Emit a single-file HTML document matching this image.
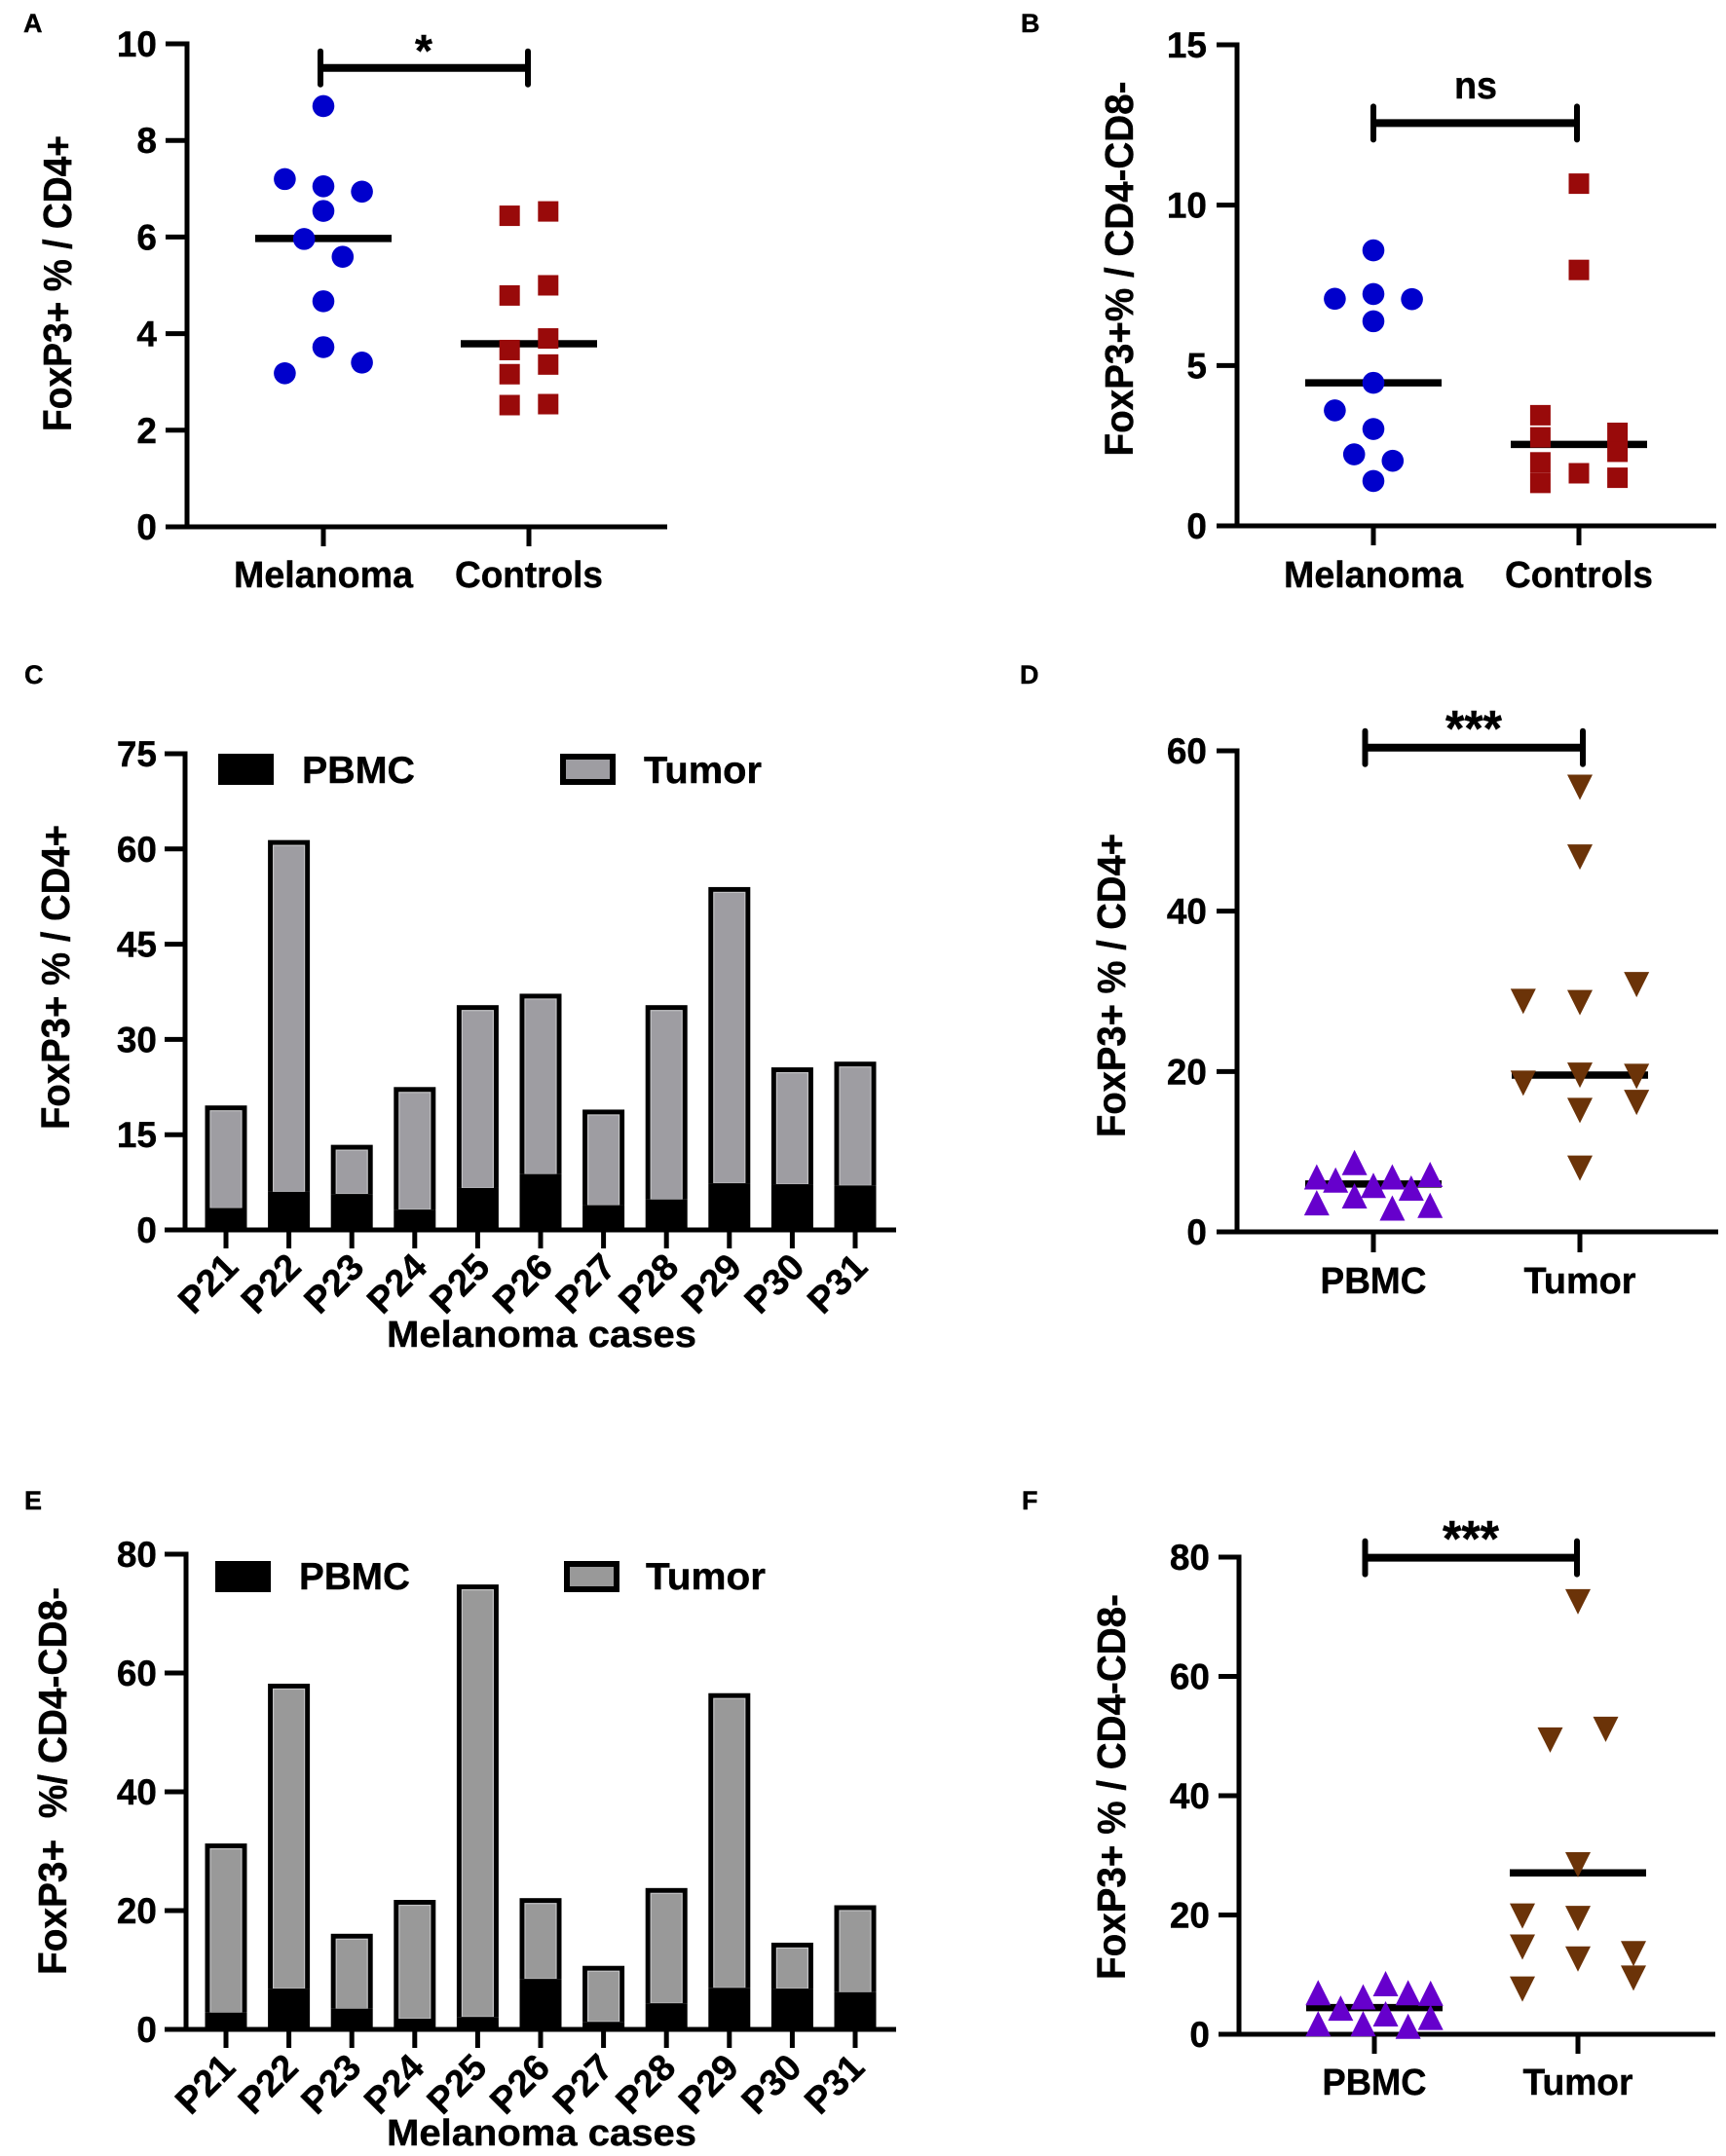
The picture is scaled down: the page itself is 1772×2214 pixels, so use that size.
<!DOCTYPE html>
<html lang="en">
<head>
<meta charset="utf-8">
<title>FoxP3+ frequencies in melanoma</title>
<style>
html,body{margin:0;padding:0;background:#fff;}
svg{display:block;}
text{font-family:"Liberation Sans",Arial,sans-serif;font-weight:bold;fill:#000;stroke:#000;stroke-width:.4;}
</style>
</head>
<body>
<svg id="figure" xmlns="http://www.w3.org/2000/svg" width="1772" height="2214" viewBox="0 0 1772 2214">
  <rect x="0" y="0" width="1772" height="2214" fill="#fff"/>

  <g id="panel-a">
    <text x="24" y="33" font-size="27">A</text>
    <text transform="translate(73 291) rotate(-90)" text-anchor="middle" font-size="41" textLength="304" lengthAdjust="spacingAndGlyphs">FoxP3+ % / CD4+</text>
    <text x="435" y="68" text-anchor="middle" font-size="46">*</text>
  </g>

  <g id="panel-b">
    <text x="1048" y="33" font-size="27">B</text>
    <text transform="translate(1163 276) rotate(-90)" text-anchor="middle" font-size="41" textLength="385" lengthAdjust="spacingAndGlyphs">FoxP3+% / CD4-CD8-</text>
    <text x="1515" y="101" text-anchor="middle" font-size="39" textLength="44" lengthAdjust="spacingAndGlyphs">ns</text>
  </g>

  <g id="panel-c">
    <text x="25" y="702" font-size="27">C</text>
    <text transform="translate(71 1003.5) rotate(-90)" text-anchor="middle" font-size="41" textLength="313" lengthAdjust="spacingAndGlyphs">FoxP3+ % / CD4+</text>
    <text x="556" y="1383" text-anchor="middle" font-size="38" textLength="318" lengthAdjust="spacingAndGlyphs">Melanoma cases</text>
    <g>
      <rect x="224" y="774" width="57" height="32" fill="#000"/>
      <text x="310" y="804" font-size="39" textLength="116" lengthAdjust="spacingAndGlyphs">PBMC</text>
      <rect x="578" y="777" width="51" height="26" fill="#9e9da2" stroke="#000" stroke-width="6"/>
      <text x="661" y="804" font-size="39" textLength="121" lengthAdjust="spacingAndGlyphs">Tumor</text>
    </g>
  </g>

  <g id="panel-d">
    <text x="1047" y="702" font-size="27">D</text>
    <text transform="translate(1155 1012) rotate(-90)" text-anchor="middle" font-size="41" textLength="312" lengthAdjust="spacingAndGlyphs">FoxP3+ % / CD4+</text>
    <text x="1513" y="766" text-anchor="middle" font-size="52" textLength="58" lengthAdjust="spacingAndGlyphs">***</text>
  </g>

  <g id="panel-e">
    <text x="25" y="1550" font-size="27">E</text>
    <text transform="translate(68 1829) rotate(-90)" text-anchor="middle" font-size="41" textLength="398" lengthAdjust="spacingAndGlyphs" xml:space="preserve">FoxP3+  %/ CD4-CD8-</text>
    <text x="556" y="2203" text-anchor="middle" font-size="38" textLength="318" lengthAdjust="spacingAndGlyphs">Melanoma cases</text>
    <g>
      <rect x="221" y="1603" width="57" height="32" fill="#000"/>
      <text x="307" y="1632" font-size="39" textLength="114" lengthAdjust="spacingAndGlyphs">PBMC</text>
      <rect x="582" y="1606" width="51" height="26" fill="#999" stroke="#000" stroke-width="6"/>
      <text x="663" y="1632" font-size="39" textLength="123" lengthAdjust="spacingAndGlyphs">Tumor</text>
    </g>
  </g>

  <g id="panel-f">
    <text x="1049" y="1550" font-size="27">F</text>
    <text transform="translate(1155 1835) rotate(-90)" text-anchor="middle" font-size="41" textLength="396" lengthAdjust="spacingAndGlyphs">FoxP3+ % / CD4-CD8-</text>
    <text x="1510" y="1598" text-anchor="middle" font-size="52" textLength="58" lengthAdjust="spacingAndGlyphs">***</text>
  </g>
</svg>

<script>
/* ---------- chart data ---------- */
const groupsMelanoma = ['Melanoma', 'Controls'];
const groupsCells = ['PBMC', 'Tumor'];
const cases = ['P21','P22','P23','P24','P25','P26','P27','P28','P29','P30','P31'];

/* Panel A */
const aTicks = [0, 2, 4, 6, 8, 10];
const aMelanoma = [8.71, 7.2, 7.05, 6.94, 6.54, 5.96, 5.59, 4.67, 3.72, 3.4, 3.18];
const aMelanomaColumns = [0, -2, 0, 2, 0, -1, 1, 0, 0, 2, -2];
const aControls = [6.44, 6.53, 4.79, 5.0, 3.9, 3.66, 3.36, 3.16, 2.52, 2.54];
const aControlsColumns = [-1, 1, -1, 1, 1, -1, 1, -1, -1, 1];
const aMedians = [5.97, 3.79];
const aBracketValue = 9.5;

/* Panel B */
const bTicks = [0, 5, 10, 15];
const bMelanoma = [8.59, 7.08, 7.23, 7.07, 6.38, 4.46, 3.6, 3.02, 2.23, 2.03, 1.4];
const bMelanomaColumns = [0, -2, 0, 2, 0, 0, -2, 0, -1, 1, 0];
const bControls = [10.67, 7.98, 3.45, 2.76, 2.9, 2.31, 1.98, 1.64, 1.5, 1.34];
const bControlsColumns = [0, 0, -2, -2, 2, 2, -2, 0, 2, -2];
const bMedians = [4.46, 2.54];
const bBracketValue = 12.56;

/* Panel C */
const cTicks = [0, 15, 30, 45, 60, 75];
const cTotals = [19.6, 61.4, 13.4, 22.5, 35.4, 37.2, 18.95, 35.4, 54, 25.6, 26.5];
const cPbmc = [3.45, 6.0, 5.66, 3.2, 6.6, 8.8, 3.9, 4.8, 7.35, 7.2, 7.0];

/* Panel D */
const dTicks = [0, 20, 40, 60];
const dPbmc = [8.6, 6.8, 6.4, 6.8, 7.1, 5.74, 5.4, 4.44, 3.57, 2.92, 3.25];
const dPbmcColumns = [-1, -3, -2, 1, 3, 0, 2, -1, -3, 1, 3];
const dTumor = [55.5, 46.8, 28.8, 28.65, 30.9, 18.6, 19.6, 19.45, 15.2, 16.2, 8.0];
const dTumorColumns = [0, 0, -3, 0, 3, -3, 0, 3, 0, 3, 0];
const dMedians = [5.96, 19.55];
const dBracketValue = 60.4;

/* Panel E */
const eTicks = [0, 20, 40, 60, 80];
const eTotals = [31.3, 58.2, 16.1, 21.8, 74.9, 22.1, 10.7, 23.8, 56.6, 14.6, 20.9];
const ePbmc = [2.84, 6.87, 3.5, 1.8, 2.1, 8.5, 1.27, 4.4, 7.0, 6.87, 6.27];

/* Panel F */
const fTicks = [0, 20, 40, 60, 80];
const fPbmc = [6.9, 1.7, 4.3, 6.2, 1.7, 8.4, 3.35, 6.9, 1.26, 6.8, 2.75];
const fPbmcColumns = [-2.5, -2.5, -1.5, -0.5, -0.5, 0.5, 0.5, 1.5, 1.5, 2.5, 2.5];
const fTumor = [72.6, 49.4, 51.2, 28.5, 19.9, 19.5, 14.7, 12.7, 13.6, 9.5, 7.66];
const fTumorColumns = [0, -1, 1, 0, -2, 0, -2, 0, 2, 2, -2];
const fMedians = [4.46, 27.06];
const fBracketValue = 79.9;

/* ---------- layout ---------- */
const layoutA = {id:'panel-a', axisX:192, left:170, right:685, yTop:45, y0:541, max:10, cx0:332, step:211, labelRight:161, catBase:603, tick:20, medianHalf:70, brX:[329,542], capHalf:17, widths:[184,152], colUnit:19.8};
const layoutB = {id:'panel-b', axisX:1270, left:1249, right:1762, yTop:46, y0:540, max:15, cx0:1410, step:211, labelRight:1239, catBase:603, tick:20, medianHalf:70, brX:[1410,1619], capHalf:17, widths:[184,152], colUnit:19.8};
const layoutC = {id:'panel-c', axisX:190, left:169, right:920, yTop:774, y0:1263, max:75, cx0:232, step:64.6, labelRight:161, tick:19, labelDx:-18.5, labelY:1318, barW:43, gray:'#9e9da2'};
const layoutD = {id:'panel-d', axisX:1270, left:1249, right:1764, yTop:771, y0:1265, max:60, cx0:1410, step:212, labelRight:1239, catBase:1328, tick:21, medianHalf:70, brX:[1401.5,1625], capHalf:17, widths:[109,115], colUnit:19.4};
const layoutE = {id:'panel-e', axisX:191, left:169, right:920, yTop:1596, y0:2084, max:80, cx0:232, step:64.6, labelRight:161, tick:19, labelDx:-21.5, labelY:2140, barW:43, gray:'#999999'};
const layoutF = {id:'panel-f', axisX:1272, left:1251, right:1761, yTop:1599, y0:2089, max:80, cx0:1411, step:209, labelRight:1242, catBase:2151, tick:20, medianHalf:70, brX:[1401.5,1619], capHalf:17, widths:[107,113], colUnit:28.5};

/* ---------- helpers ---------- */
const NS = 'http://www.w3.org/2000/svg';
function mk(tag, attrs, parent, content) {
  const node = document.createElementNS(NS, tag);
  for (const key in attrs) node.setAttribute(key, attrs[key]);
  if (content !== undefined) node.textContent = content;
  parent.appendChild(node);
  return node;
}
function yScale(p, v) { return p.y0 - (v / p.max) * (p.y0 - p.yTop); }
function xCat(p, i) { return p.cx0 + i * p.step; }

function drawYAxis(p, ticks) {
  const g = document.getElementById(p.id);
  const axis = mk('line', {x1:p.axisX, x2:p.axisX, y1:yScale(p, p.max) - 2.5, y2:p.y0, stroke:'#000', 'stroke-width':5}, g);
  
  
  const base = mk('line', {x1:p.left, x2:p.right, y1:p.y0, y2:p.y0, stroke:'#000', 'stroke-width':5}, g);
  
  
  ticks.forEach(function (t) {
    const y = yScale(p, t);
    const tick = mk('line', {x1:p.left, x2:p.axisX, y1:y, y2:y, stroke:'#000', 'stroke-width':5}, g);
    
    
    const label = mk('text', {x:p.labelRight, y:y + 13, 'text-anchor':'end', 'font-size':37}, g, String(t));
    
    
  });
}

function drawCategoryAxis(p, names) {
  const g = document.getElementById(p.id);
  names.forEach(function (name, i) {
    const x = xCat(p, i);
    const tick = mk('line', {x1:x, x2:x, y1:p.y0, y2:p.y0 + p.tick, stroke:'#000', 'stroke-width':5}, g);
    
    
    const label = mk('text', {x:x, y:p.catBase, 'text-anchor':'middle', 'font-size':38, textLength:p.widths[i], lengthAdjust:'spacingAndGlyphs'}, g, name);
    
    
  });
}

function drawMedians(p, medians) {
  const g = document.getElementById(p.id);
  medians.forEach(function (m, i) {
    const x = xCat(p, i);
    const y = yScale(p, m);
    const line = mk('line', {x1:x - p.medianHalf, x2:x + p.medianHalf, y1:y, y2:y, stroke:'#000', 'stroke-width':7.5}, g);
    
    
  });
}

function drawBracket(p, value) {
  const g = document.getElementById(p.id);
  const y = yScale(p, value);
  const bar = mk('line', {x1:p.brX[0], x2:p.brX[1], y1:y, y2:y, stroke:'#000', 'stroke-width':8}, g);
  
  
  p.brX.forEach(function (x) {
    const cap = mk('line', {x1:x, x2:x, y1:y - p.capHalf, y2:y + p.capHalf, stroke:'#000', 'stroke-width':6, 'stroke-linecap':'round'}, g);
    
    
  });
}

function drawCircles(p, catIndex, values, columns) {
  const g = document.getElementById(p.id);
  values.forEach(function (v, i) {
    const dot = mk('circle', {cx:xCat(p, catIndex) + columns[i] * p.colUnit, cy:yScale(p, v), r:11.3, fill:'#0000cc'}, g);
    
    
  });
}
function drawSquares(p, catIndex, values, columns) {
  const g = document.getElementById(p.id);
  values.forEach(function (v, i) {
    const cx = xCat(p, catIndex) + columns[i] * p.colUnit;
    const sq = mk('rect', {x:cx - 10.5, y:yScale(p, v) - 10.5, width:21, height:21, fill:'#990a0a'}, g);
    
    
  });
}
function drawUpTriangles(p, catIndex, values, columns) {
  const g = document.getElementById(p.id);
  values.forEach(function (v, i) {
    const cx = xCat(p, catIndex) + columns[i] * p.colUnit;
    const cy = yScale(p, v);
    const tri = mk('polygon', {points:[cx, cy - 13.5, cx + 13, cy + 12.5, cx - 13, cy + 12.5].join(' '), fill:'#6600cc'}, g);
    
    
  });
}
function drawDownTriangles(p, catIndex, values, columns) {
  const g = document.getElementById(p.id);
  values.forEach(function (v, i) {
    const cx = xCat(p, catIndex) + columns[i] * p.colUnit;
    const cy = yScale(p, v);
    const tri = mk('polygon', {points:[cx - 13, cy - 12.5, cx + 13, cy - 12.5, cx, cy + 13.5].join(' '), fill:'#6b3308'}, g);
    
    
  });
}

function drawBars(p, names, totals, pbmc) {
  const g = document.getElementById(p.id);
  const border = 5.5;
  names.forEach(function (name, i) {
    const x = xCat(p, i);
    const left = x - p.barW / 2;
    const top = yScale(p, totals[i]);
    const mid = yScale(p, pbmc[i]);

    const outline = mk('rect', {x:left, y:top, width:p.barW, height:mid - top, fill:'#000'}, g);
    
    

    const tumor = mk('rect', {x:left + border, y:top + border, width:p.barW - 2 * border, height:Math.max(0, mid - top - border), fill:p.gray, stroke:'#c2c2c4', 'stroke-width':1.2}, g);
    
    

    const lower = mk('rect', {x:left, y:mid, width:p.barW, height:p.y0 - mid, fill:'#000'}, g);
    
    

    const tick = mk('line', {x1:x, x2:x, y1:p.y0, y2:p.y0 + p.tick, stroke:'#000', 'stroke-width':5}, g);
    
    

    const lx = x + p.labelDx;
    const label = mk('text', {transform:'translate(' + lx + ' ' + p.labelY + ') rotate(-45)', 'text-anchor':'middle', y:13, 'font-size':38}, g, name);
    
    
  });
}

/* ---------- render ---------- */
drawMedians(layoutA, aMedians);
drawYAxis(layoutA, aTicks);
drawCategoryAxis(layoutA, groupsMelanoma);
drawBracket(layoutA, aBracketValue);
drawCircles(layoutA, 0, aMelanoma, aMelanomaColumns);
drawSquares(layoutA, 1, aControls, aControlsColumns);

drawMedians(layoutB, bMedians);
drawYAxis(layoutB, bTicks);
drawCategoryAxis(layoutB, groupsMelanoma);
drawBracket(layoutB, bBracketValue);
drawCircles(layoutB, 0, bMelanoma, bMelanomaColumns);
drawSquares(layoutB, 1, bControls, bControlsColumns);

drawBars(layoutC, cases, cTotals, cPbmc);
drawYAxis(layoutC, cTicks);

drawMedians(layoutD, dMedians);
drawYAxis(layoutD, dTicks);
drawCategoryAxis(layoutD, groupsCells);
drawBracket(layoutD, dBracketValue);
drawUpTriangles(layoutD, 0, dPbmc, dPbmcColumns);
drawDownTriangles(layoutD, 1, dTumor, dTumorColumns);

drawBars(layoutE, cases, eTotals, ePbmc);
drawYAxis(layoutE, eTicks);

drawMedians(layoutF, fMedians);
drawYAxis(layoutF, fTicks);
drawCategoryAxis(layoutF, groupsCells);
drawBracket(layoutF, fBracketValue);
drawUpTriangles(layoutF, 0, fPbmc, fPbmcColumns.map(function (c) { return c * 0.81; }));
drawDownTriangles(layoutF, 1, fTumor, fTumorColumns);
</script>
</body>
</html>
